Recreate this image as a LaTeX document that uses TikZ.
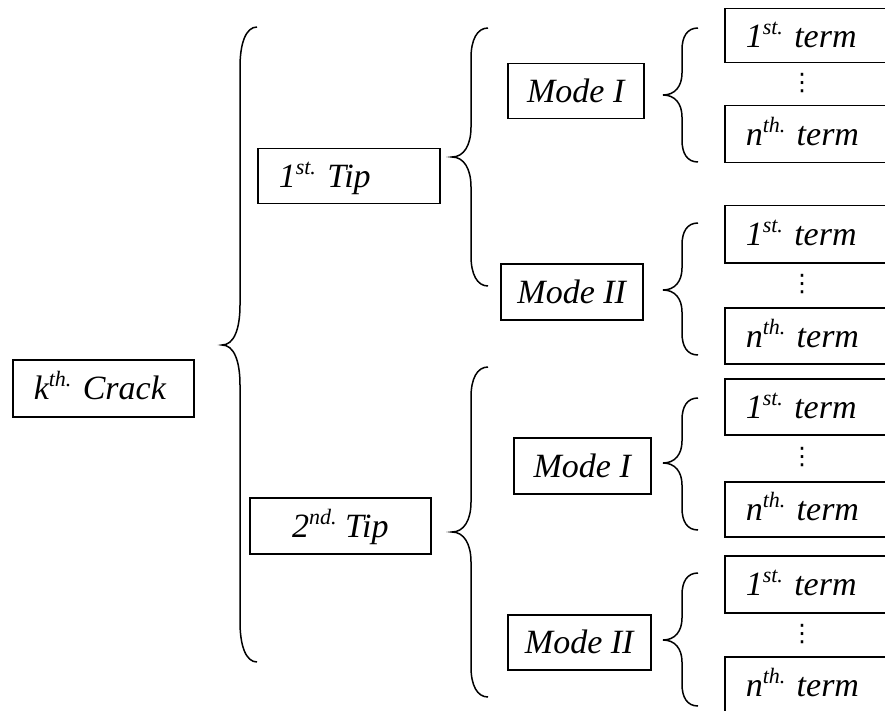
\documentclass[tikz,border=0pt]{standalone}
\usepackage{fontspec}
\setmainfont{Liberation Serif}[ItalicFont={Liberation Serif Italic}]
\newfontfamily\labelfont{Liberation Serif Italic}
\newfontfamily\symfont{DejaVu Sans}

% curly bracket: #1 tip x, #2 stem x, #3 end x, #4 top y, #5 tip y, #6 bottom y, #7 bend length
\newcommand\curlybr[7]{%
  \draw[bracket] (#3,#4) .. controls +(-11,0) and +(0,-0.6*#7) .. (#2,#4+#7)
    -- (#2,#5-#7) .. controls +(0,0.6*#7) and +(12,0) .. (#1,#5)
    .. controls +(12,0) and +(0,-0.6*#7) .. (#2,#5+#7)
    -- (#2,#6-#7) .. controls +(0,0.6*#7) and +(-11,0) .. (#3,#6);}
% superscript ordinal in the label font
\newcommand\ordsup[1]{\raisebox{0.38em}{\fontsize{22}{24}\selectfont #1}}

\begin{document}
\begin{tikzpicture}[x=1pt,y=-1pt,
  frame/.style={draw, line width=1.5pt, inner ysep=0pt, inner xsep=0pt,
    text height=23pt, text depth=0pt, anchor=north west,
    font=\labelfont\fontsize{34}{40}\selectfont},
  padded/.style={inner xsep=21pt, align=left, text width=#1},
  bracket/.style={line width=1.5pt},
  dots/.style={font=\symfont\fontsize{24}{28}\selectfont, inner sep=0pt}]
\useasboundingbox (0,0) rectangle (885,711);
\clip (0,0) rectangle (885,711);

% root and tips
\node[frame, padded=139pt, minimum width=181pt, minimum height=57pt] (crack) at (12,359) {k\ordsup{th.} Crack};
\node[frame, padded=140pt, minimum width=182pt, minimum height=55pt] (tipA) at (257,148) {1\ordsup{st.} Tip};
\node[frame, minimum width=181pt, minimum height=56pt] (tipB) at (249,497) {2\ordsup{nd.} Tip};

% modes
\node[frame, minimum width=136pt, minimum height=55pt] (modeAI) at (507,63) {Mode I};
\node[frame, minimum width=142pt, minimum height=56pt] (modeAII) at (500,263) {Mode II};
\node[frame, minimum width=137pt, minimum height=56pt] (modeBI) at (513,437) {Mode I};
\node[frame, minimum width=143pt, minimum height=55pt] (modeBII) at (507,614) {Mode II};

% series terms (boxes run past the right edge)
\node[frame, padded=158pt, minimum width=200pt, minimum height=54pt] (t1) at (724,8) {1\ordsup{st.} term};
\node[frame, padded=158pt, minimum width=200pt, minimum height=57pt] (t2) at (724,105) {n\ordsup{th.} term};
\node[frame, padded=158pt, minimum width=200pt, minimum height=57pt] (t3) at (724,205) {1\ordsup{st.} term};
\node[frame, padded=158pt, minimum width=200pt, minimum height=56pt] (t4) at (724,307) {n\ordsup{th.} term};
\node[frame, padded=158pt, minimum width=200pt, minimum height=56pt] (t5) at (724,378) {1\ordsup{st.} term};
\node[frame, padded=158pt, minimum width=200pt, minimum height=55pt] (t6) at (724,481) {n\ordsup{th.} term};
\node[frame, padded=158pt, minimum width=200pt, minimum height=57pt] (t7) at (724,555) {1\ordsup{st.} term};
\node[frame, padded=158pt, minimum width=200pt, minimum height=56pt] (t8) at (724,656) {n\ordsup{th.} term};

% ellipses between first and last term
\node[dots] (d1) at (802,83) {⋮};
\node[dots] (d2) at (802,284) {⋮};
\node[dots] (d3) at (802,457) {⋮};
\node[dots] (d4) at (802,634) {⋮};

% brackets
\curlybr{222}{240}{257}{27}{345}{662}{40}
\curlybr{452}{471}{488}{28}{157}{286}{30}
\curlybr{452}{471}{488}{367}{532}{697}{30}
\curlybr{663}{682}{698}{28}{95}{162}{22}
\curlybr{663}{682}{698}{223}{290}{355}{22}
\curlybr{663}{682}{698}{398}{463}{530}{22}
\curlybr{663}{682}{698}{573}{640}{706}{22}
\end{tikzpicture}
\end{document}
